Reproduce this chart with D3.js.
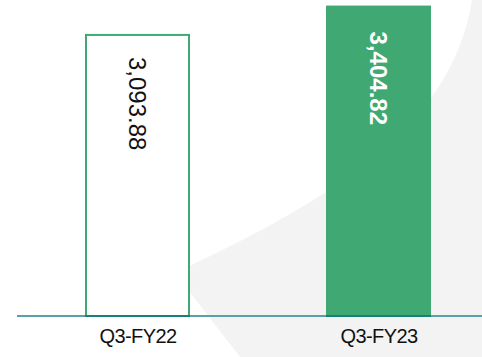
<!DOCTYPE html>
<html>
<head>
<meta charset="utf-8">
<script src="https://cdn.jsdelivr.net/npm/d3@7"></script>
<style>
  html, body { margin: 0; padding: 0; background: #fff; }
  svg { display: block; }
</style>
</head>
<body>
<svg id="chart" width="482" height="357"></svg>
<script>
// Quarterly values
const categories = ["Q3-FY22", "Q3-FY23"];
const values = [3093.88, 3404.82];
const valueLabels = ["3,093.88", "3,404.82"];
const barStyles = ["outline", "solid"];

const W = 482, H = 357;
const baseY = 316;
const green = "#3fa873";

const svg = d3.select("#chart");

// Soft grey sweep in the background
const bg = d3.path();
bg.moveTo(472, 0);
bg.bezierCurveTo(452, 128, 330, 200, 175, 273);
bg.lineTo(240, H);
bg.lineTo(W, H);
bg.lineTo(W, 0);
bg.closePath();
svg.append("path").attr("d", bg.toString()).attr("fill", "#f3f3f3");

const x = d3.scalePoint().domain(categories).range([17, 499]).padding(0.5);
const y = d3.scaleLinear().domain([0, 3466]).range([baseY, 0]);
const barW = 105;

const data = categories.map((c, i) => ({ c, v: values[i], label: valueLabels[i], style: barStyles[i] }));

// Bars
svg.selectAll("rect.bar").data(data).join("rect")
  .attr("class", "bar")
  .attr("x", d => x(d.c) - barW / 2 + (d.style === "outline" ? 1 : 0))
  .attr("y", d => y(d.v) + (d.style === "outline" ? 1 : 0))
  .attr("width", d => barW - (d.style === "outline" ? 2 : 0))
  .attr("height", d => baseY - y(d.v) - (d.style === "outline" ? 1 : 0))
  .attr("fill", d => d.style === "outline" ? "#fff" : green)
  .attr("stroke", d => d.style === "outline" ? green : "none")
  .attr("stroke-width", 2);

// Baseline axis
const axis = svg.append("g")
  .attr("transform", `translate(0,${baseY})`)
  .call(d3.axisBottom(x).tickSize(0).tickPadding(13));
axis.select(".domain").remove();
axis.insert("line", ":first-child")
  .attr("x1", 17).attr("x2", W)
  .attr("stroke", "#5a9fa9").attr("stroke-width", 2);
axis.selectAll(".bar-base").data(data).join("line")
  .attr("class", "bar-base")
  .attr("x1", d => x(d.c) - barW / 2)
  .attr("x2", d => x(d.c) + barW / 2)
  .attr("stroke", "#17807a").attr("stroke-width", 2);
axis.selectAll(".tick text")
  .attr("font-family", "Liberation Sans, Arial, sans-serif")
  .attr("font-size", 20)
  .attr("letter-spacing", "-0.6px")
  .attr("fill", "#111")
  .attr("dy", "0.71em");

// Rotated value labels inside the bars
svg.selectAll("text.val").data(data).join("text")
  .attr("class", "val")
  .attr("transform", d => `translate(${x(d.c) - 0.5},${y(d.v) + (d.style === "outline" ? 23 : 26)}) rotate(90)`)
  .attr("dominant-baseline", "central")
  .attr("font-family", "Liberation Sans, Arial, sans-serif")
  .attr("font-size", 24)
  .attr("font-weight", d => d.style === "outline" ? "normal" : "bold")
  .attr("fill", d => d.style === "outline" ? "#111" : "#fff")
  .text(d => d.label);
</script>
</body>
</html>
